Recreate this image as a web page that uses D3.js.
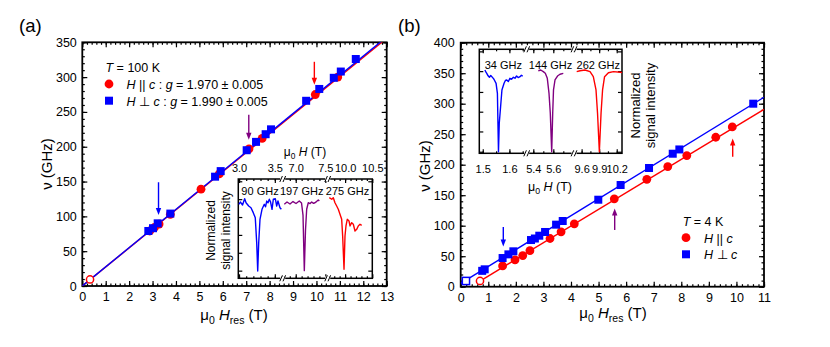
<!DOCTYPE html>
<html>
<head>
<meta charset="utf-8">
<title>ESR frequency vs resonance field</title>
<script src="https://cdn.jsdelivr.net/npm/d3@7"></script>
<style>
    body { margin: 0; background: #fff; }
    svg { font-family: "Liberation Sans", Arial, Helvetica, sans-serif; }
</style>
</head>
<body>
<svg id="chart" width="830" height="347"></svg>
<script>
    // ---------- panel (a), T = 100 K ----------
    var aParH  = [2.88, 3.08, 3.28, 3.76, 5.07, 5.85, 7.12, 7.68, 9.95, 10.91];
    var aParF  = [79, 84, 89, 103, 139, 161, 197, 212, 275, 300];
    var aPerpH = [2.82, 3.02, 3.22, 3.76, 5.67, 5.91, 7.02, 7.42, 7.83, 8.06, 9.56, 10.12, 10.74, 11.04, 11.68];
    var aPerpF = [79, 83, 90, 104, 157, 165, 195, 207, 218, 225, 266, 283, 299, 308, 326];
    var aOpenParH = [0.33], aOpenParF = [9.4];
    var aFitParH = [0, 13],  aFitParF = [0, 355.8];
    var aFitPerpH = [0, 13], aFitPerpF = [0, 357.7];
    // arrows: field, tail freq, tip freq
    var aArrowH = [3.255, 7.11, 9.91];
    var aArrowTail = [149, 246, 322];
    var aArrowTip = [102, 210, 289];

    // inset (a) spectra [field (T), normalized intensity]
    var spec90 = [[2.996,0.745],[3.021,0.768],[3.049,0.738],[3.079,0.802],[3.098,0.761],[3.135,0.728],
        [3.167,0.711],[3.199,0.661],[3.227,0.610],[3.247,0.359],[3.261,0.074],[3.275,0.359],[3.293,0.594],
        [3.321,0.695],[3.353,0.745],[3.370,0.720],[3.387,0.778],[3.405,0.760],[3.423,0.796],[3.440,0.770],
        [3.461,0.695],[3.479,0.796],[3.507,0.802],[3.526,0.728],[3.544,0.778],[3.572,0.711],[3.591,0.695]];
    var spec197 = [[6.807,0.745],[6.853,0.768],[6.903,0.748],[6.954,0.773],[7.005,0.753],[7.060,0.778],
        [7.098,0.758],[7.123,0.637],[7.145,0.077],[7.165,0.486],[7.185,0.695],[7.212,0.761],[7.240,0.752],
        [7.270,0.768],[7.300,0.755],[7.325,0.761],[7.355,0.775],[7.381,0.789],[7.398,0.778]];
    var spec275 = [[9.709,0.812],[9.754,0.796],[9.783,0.812],[9.814,0.761],[9.845,0.728],[9.875,0.695],
        [9.906,0.645],[9.937,0.594],[9.955,0.426],[9.980,0.091],[9.998,0.426],[10.016,0.527],[10.040,0.594],
        [10.072,0.577],[10.090,0.527],[10.121,0.560],[10.151,0.544],[10.182,0.476],[10.213,0.493],
        [10.242,0.527],[10.274,0.544],[10.305,0.534]];
    var insetASegments = [[2.99, 3.61], [6.78, 7.54], [9.68, 10.5]];
    var insetATicks = [3.0, 3.5, 7.0, 7.5, 10.0, 10.5];

    // ---------- panel (b), T = 4 K ----------
    var bParH  = [1.52, 1.97, 2.25, 2.51, 3.24, 3.64, 4.12, 5.57, 6.75, 7.51, 8.20, 9.25, 9.85];
    var bParF  = [34, 44, 51, 59, 79, 90, 103, 144, 176, 197, 215, 245, 262];
    var bPerpH = [0.78, 0.87, 1.52, 1.73, 1.91, 2.55, 2.69, 2.85, 3.06, 3.46, 3.70, 4.99, 5.80, 6.83, 7.69, 7.93, 10.61];
    var bPerpF = [26, 28.5, 47, 53, 58, 76.5, 79, 83.6, 89.7, 101.7, 107.7, 142.6, 166.7, 194.6, 218, 225, 300];
    var bOpenParH = [0.70], bOpenParF = [9.4];
    var bOpenPerpH = [0.19], bOpenPerpF = [9.4];
    var bFitParH = [0.7, 11], bFitParF = [9.3, 290.8];
    var bFitPerpH = [0, 11],  bFitPerpF = [5.5, 310.5];
    var bArrowH = [1.545, 5.585, 9.865];
    var bArrowTail = [98, 93, 213];
    var bArrowTip = [66, 128, 243];

    var spec34 = [[1.508,0.801],[1.512,0.780],[1.515,0.769],[1.520,0.745],[1.525,0.731],[1.530,0.748],
        [1.534,0.737],[1.538,0.725],[1.542,0.712],[1.550,0.673],[1.555,0.577],[1.557,0.291],[1.559,0.015],
        [1.562,0.291],[1.567,0.448],[1.572,0.609],[1.580,0.673],[1.585,0.700],[1.590,0.705],[1.596,0.690],
        [1.602,0.721],[1.608,0.712],[1.615,0.731],[1.621,0.722],[1.627,0.743],[1.633,0.728],[1.640,0.737],
        [1.645,0.750],[1.650,0.743]];
    var spec144 = [[5.450,0.794],[5.474,0.801],[5.500,0.785],[5.520,0.769],[5.540,0.721],[5.557,0.577],
        [5.570,0.385],[5.584,0.015],[5.594,0.385],[5.602,0.609],[5.617,0.705],[5.642,0.743],[5.667,0.760],
        [5.700,0.769]];
    var spec262 = [[9.516,0.785],[9.573,0.794],[9.658,0.801],[9.744,0.785],[9.800,0.737],[9.846,0.609],
        [9.872,0.385],[9.903,0.015],[9.932,0.385],[9.958,0.609],[9.992,0.737],[10.058,0.775],[10.143,0.785],
        [10.258,0.779],[10.29,0.777]];
    var insetBSegments = [[1.487, 1.665], [5.334, 5.807], [9.47, 10.29]];
    var insetBTicks = [1.5, 1.6, 5.4, 5.6, 9.6, 9.9, 10.2];

    var RED = "#ff0000", BLUE = "#0000ff", PURPLE = "#800080";
    var svg = d3.select("#chart");

    function zip(a, b) { return a.map(function (v, i) { return [v, b[i]]; }); }

    // axis helper: inward ticks, optional labels
    function addAxis(g, axisFn, scale, values, size, tr, fmt, pad, fs) {
        var a = axisFn(scale).tickValues(values).tickSize(-size).tickPadding(pad || 0);
        a.tickFormat(fmt || "");
        var ag = g.append("g").attr("transform", tr).call(a);
        ag.select(".domain").remove();
        ag.selectAll("line").attr("stroke", "#000").attr("stroke-width", 1.2);
        ag.selectAll("text").attr("font-size", fs || 12.5)
            .attr("font-family", '"Liberation Sans", Arial, sans-serif').attr("fill", "#000");
        return ag;
    }

    function arrow(g, x, yTail, yTip, color) {
        var dir = yTip > yTail ? 1 : -1;
        g.append("line").attr("x1", x).attr("x2", x).attr("y1", yTail).attr("y2", yTip - dir * 5)
            .attr("stroke", color).attr("stroke-width", 1.4);
        g.append("path")
            .attr("d", "M" + (x - 2.7) + "," + (yTip - dir * 7) + "L" + (x + 2.7) + "," + (yTip - dir * 7) + "L" + x + "," + yTip + "Z")
            .attr("fill", color);
    }

    // subscripted label "μ0 H..."
    function muLabel(t, sub, fs) {
        t.append("tspan").text("μ");
        t.append("tspan").attr("font-size", fs * 0.7).attr("dy", fs * 0.25).text("0");
        t.append("tspan").attr("dy", -fs * 0.25).text(" ");
        t.append("tspan").attr("font-style", "italic").text("H");
        if (sub) {
            t.append("tspan").attr("font-size", fs * 0.7).attr("dy", fs * 0.25).text(sub);
            t.append("tspan").attr("dy", -fs * 0.25).text(" (T)");
        } else {
            t.append("tspan").text(" (T)");
        }
    }

    function mainPanel(o) {
        var g = svg.append("g");
        var x = d3.scaleLinear().domain(o.xDomain).range([o.left, o.right]);
        var y = d3.scaleLinear().domain(o.yDomain).range([o.bottom, o.top]);

        g.append("clipPath").attr("id", o.id + "-clip").append("rect")
            .attr("x", o.left).attr("y", o.top).attr("width", o.right - o.left).attr("height", o.bottom - o.top);

        // ticks on all four sides
        var xMaj = d3.range(o.xDomain[0], o.xDomain[1] + 0.01, 1);
        var xMin = d3.range(o.xDomain[0], o.xDomain[1] + 0.01, 0.2);
        var yMaj = d3.range(o.yDomain[0], o.yDomain[1] + 0.1, 50);
        var yMin = d3.range(o.yDomain[0], o.yDomain[1] + 0.1, 10);
        addAxis(g, d3.axisBottom, x, xMin, 2.5, "translate(0," + o.bottom + ")");
        addAxis(g, d3.axisTop, x, xMin, 2.5, "translate(0," + o.top + ")");
        addAxis(g, d3.axisLeft, y, yMin, 2.5, "translate(" + o.left + ",0)");
        addAxis(g, d3.axisRight, y, yMin, 2.5, "translate(" + o.right + ",0)");
        addAxis(g, d3.axisBottom, x, xMaj, 5, "translate(0," + o.bottom + ")", d3.format("d"), 6.5);
        addAxis(g, d3.axisTop, x, xMaj, 5, "translate(0," + o.top + ")");
        addAxis(g, d3.axisLeft, y, yMaj, 5, "translate(" + o.left + ",0)", d3.format("d"), o.yPad);
        addAxis(g, d3.axisRight, y, yMaj, 5, "translate(" + o.right + ",0)");

        g.append("rect").attr("x", o.left).attr("y", o.top)
            .attr("width", o.right - o.left).attr("height", o.bottom - o.top)
            .attr("fill", "none").attr("stroke", "#000").attr("stroke-width", 1.8);

        // fit lines
        var line = d3.line().x(function (d) { return x(d[0]); }).y(function (d) { return y(d[1]); });
        var plot = g.append("g").attr("clip-path", "url(#" + o.id + "-clip)");
        o.fits.forEach(function (f) {
            plot.append("path").attr("d", line(zip(f.h, f.f)))
                .attr("fill", "none").attr("stroke", f.color).attr("stroke-width", 1.4);
        });

        // open markers
        plot.selectAll(".openc").data(zip(o.openParH, o.openParF)).enter().append("circle")
            .attr("cx", function (d) { return x(d[0]); }).attr("cy", function (d) { return y(d[1]); })
            .attr("r", 3.6).attr("fill", "#fff").attr("stroke", RED).attr("stroke-width", 1.5);
        plot.selectAll(".opens").data(zip(o.openPerpH, o.openPerpF)).enter().append("rect")
            .attr("x", function (d) { return x(d[0]) - 3.6; }).attr("y", function (d) { return y(d[1]) - 3.6; })
            .attr("width", 7.2).attr("height", 7.2).attr("fill", "#fff").attr("stroke", BLUE).attr("stroke-width", 1.5);

        // filled markers
        plot.selectAll(".par").data(zip(o.parH, o.parF)).enter().append("circle")
            .attr("cx", function (d) { return x(d[0]); }).attr("cy", function (d) { return y(d[1]); })
            .attr("r", 4.4).attr("fill", RED);
        plot.selectAll(".perp").data(zip(o.perpH, o.perpF)).enter().append("rect")
            .attr("x", function (d) { return x(d[0]) - 4; }).attr("y", function (d) { return y(d[1]) - 4; })
            .attr("width", 8).attr("height", 8).attr("fill", BLUE);

        // arrows
        var colors = [BLUE, PURPLE, RED];
        o.arrowH.forEach(function (h, i) {
            arrow(g, x(h), y(o.arrowTail[i]), y(o.arrowTip[i]), colors[i]);
        });

        // axis titles
        var yt = g.append("text").attr("transform", "translate(" + o.yTitleX + "," + o.yTitleY + ") rotate(-90)")
            .attr("text-anchor", "middle").attr("font-size", 15).text("ν (GHz)");
        var xt = g.append("text").attr("x", o.xTitleX).attr("y", o.xTitleY)
            .attr("text-anchor", "middle").attr("font-size", 15);
        muLabel(xt, "res", 15);

        g.append("text").attr("x", o.tagX).attr("y", 32).attr("font-size", 18.5).text(o.tag);
        return { g: g, x: x, y: y };
    }

    function inset(o) {
        var g = svg.append("g");
        var rng = [], dom = [];
        var w = (o.x1 - o.x0) / o.segPx.length;
        o.segments.forEach(function (s, i) { dom.push(s[0], s[1]); rng.push(o.segPx[i][0], o.segPx[i][1]); });
        var x = d3.scaleLinear().domain(dom).range(rng);
        var y = d3.scaleLinear().domain([0, 1]).range([o.y1, o.y0]);

        g.append("rect").attr("x", o.x0).attr("y", o.y0).attr("width", o.x1 - o.x0).attr("height", o.y1 - o.y0)
            .attr("fill", "#fff");
        g.append("clipPath").attr("id", o.id + "-clip").append("rect")
            .attr("x", o.x0).attr("y", o.y0).attr("width", o.x1 - o.x0).attr("height", o.y1 - o.y0);

        // minor ticks: every half step inside each segment
        var minor = [];
        o.segments.forEach(function (s, i) {
            d3.range(Math.ceil(s[0] / o.minorStep[i]) * o.minorStep[i], s[1], o.minorStep[i]).forEach(function (v) { minor.push(v); });
        });
        var fmt = function (d) { return d3.format(".1f")(d); };
        addAxis(g, d3.axisBottom, x, minor, 2, "translate(0," + o.y1 + ")");
        addAxis(g, d3.axisTop, x, minor, 2, "translate(0," + o.y0 + ")");
        addAxis(g, d3.axisBottom, x, o.ticks, 4, "translate(0," + o.y1 + ")", o.labelBottom ? fmt : "", 12, 11);
        addAxis(g, d3.axisTop, x, o.ticks, 4, "translate(0," + o.y0 + ")", o.labelBottom ? "" : fmt, 7, 11);
        addAxis(g, d3.axisLeft, y, o.yTicks, 4, "translate(" + o.x0 + ",0)");
        addAxis(g, d3.axisRight, y, o.yTicks, 4, "translate(" + o.x1 + ",0)");

        g.append("rect").attr("x", o.x0).attr("y", o.y0).attr("width", o.x1 - o.x0).attr("height", o.y1 - o.y0)
            .attr("fill", "none").attr("stroke", "#000").attr("stroke-width", 1.5);

        // axis breaks "//"
        o.segPx.slice(1).forEach(function (p) {
            [o.y0, o.y1].forEach(function (yy) {
                g.append("rect").attr("x", p[0] - 2.5).attr("y", yy - 2).attr("width", 5).attr("height", 4).attr("fill", "#fff");
                [-1.6, 1.6].forEach(function (dx) {
                    g.append("line").attr("x1", p[0] + dx - 1.3).attr("y1", yy + 3)
                        .attr("x2", p[0] + dx + 1.3).attr("y2", yy - 3)
                        .attr("stroke", "#000").attr("stroke-width", 1);
                });
            });
        });

        var line = d3.line().x(function (d) { return x(d[0]); }).y(function (d) { return y(d[1]); });
        var colors = [BLUE, PURPLE, RED];
        var plot = g.append("g").attr("clip-path", "url(#" + o.id + "-clip)");
        o.spectra.forEach(function (s, i) {
            plot.append("path").attr("d", line(s)).attr("fill", "none")
                .attr("stroke", colors[i]).attr("stroke-width", 1.4).attr("stroke-linejoin", "round");
        });

        // frequency labels
        o.freqLabels.forEach(function (t, i) {
            g.append("text").attr("x", o.freqX[i]).attr("y", o.freqY).attr("text-anchor", "middle")
                .attr("font-size", 11).text(t);
        });

        // titles
        var xt = g.append("text").attr("x", o.xTitleX).attr("y", o.xTitleY).attr("text-anchor", "middle")
            .attr("font-size", o.titleFs);
        muLabel(xt, null, o.titleFs);
        ["Normalized", "signal intensity"].forEach(function (t, i) {
            g.append("text").attr("transform", "translate(" + o.yTitleX[i] + "," + o.yTitleY + ") rotate(-90)")
                .attr("text-anchor", "middle").attr("font-size", o.yTitleFs).text(t);
        });
    }

    // ----- panel (a)
    var pa = mainPanel({
        id: "pa", xDomain: [0, 13], yDomain: [0, 350],
        left: 82.3, right: 386.7, top: 42.3, bottom: 286, yPad: 5.5,
        parH: aParH, parF: aParF, perpH: aPerpH, perpF: aPerpF,
        openParH: aOpenParH, openParF: aOpenParF, openPerpH: [], openPerpF: [],
        fits: [{ h: aFitParH, f: aFitParF, color: RED }, { h: aFitPerpH, f: aFitPerpF, color: BLUE }],
        arrowH: aArrowH, arrowTail: aArrowTail, arrowTip: aArrowTip,
        yTitleX: 52, yTitleY: 164, xTitleX: 234, xTitleY: 320, tag: "(a)", tagX: 19
    });

    // legend (a)
    var la = pa.g.append("g").attr("font-size", 12.5);
    var t0 = la.append("text").attr("x", 105.5).attr("y", 71.5);
    t0.append("tspan").attr("font-style", "italic").text("T");
    t0.append("tspan").text(" = 100 K");
    la.append("circle").attr("cx", 109).attr("cy", 84).attr("r", 4.4).attr("fill", RED);
    la.append("rect").attr("x", 105).attr("y", 96.7).attr("width", 8).attr("height", 8).attr("fill", BLUE);
    [["||", "1.970", 88.5], ["\u22a5", "1.990", 105.5]].forEach(function (r) {
        var t = la.append("text").attr("x", 126.5).attr("y", r[2]);
        t.append("tspan").attr("font-style", "italic").text("H");
        t.append("tspan").text(" " + r[0] + " ");
        t.append("tspan").attr("font-style", "italic").text("c");
        t.append("tspan").text(" : ");
        t.append("tspan").attr("font-style", "italic").text("g");
        t.append("tspan").text(" = " + r[1] + " \u00b1 0.005");
    });

    inset({
        id: "ia", x0: 238.3, x1: 372.3, y0: 179, y1: 278.3,
        segments: insetASegments, segPx: [[238.3, 282.7], [282.7, 327.7], [327.7, 372.3]],
        minorStep: [0.1, 0.1, 0.1], ticks: insetATicks, labelBottom: false,
        yTicks: [0.077, 0.257, 0.437, 0.617, 0.797, 0.977],
        spectra: [spec90, spec197, spec275],
        freqLabels: ["90 GHz", "197 GHz", "275 GHz"], freqX: [260, 301.7, 347.5], freqY: 195,
        xTitleX: 305, xTitleY: 155.5, titleFs: 12,
        yTitleX: [215, 230], yTitleY: 230.5, yTitleFs: 12
    });

    // ----- panel (b)
    var pb = mainPanel({
        id: "pb", xDomain: [0, 11], yDomain: [0, 400],
        left: 460.7, right: 764, top: 42.7, bottom: 286.7, yPad: 6,
        parH: bParH, parF: bParF, perpH: bPerpH, perpF: bPerpF,
        openParH: bOpenParH, openParF: bOpenParF, openPerpH: bOpenPerpH, openPerpF: bOpenPerpF,
        fits: [{ h: bFitParH, f: bFitParF, color: RED }, { h: bFitPerpH, f: bFitPerpF, color: BLUE }],
        arrowH: bArrowH, arrowTail: bArrowTail, arrowTip: bArrowTip,
        yTitleX: 430, yTitleY: 166, xTitleX: 613, xTitleY: 318, tag: "(b)", tagX: 398
    });

    // legend (b)
    var lb = pb.g.append("g").attr("font-size", 12.5);
    var t1 = lb.append("text").attr("x", 682.7).attr("y", 225.5);
    t1.append("tspan").attr("font-style", "italic").text("T");
    t1.append("tspan").text(" = 4 K");
    lb.append("circle").attr("cx", 686).attr("cy", 237.7).attr("r", 4.4).attr("fill", RED);
    lb.append("rect").attr("x", 682).attr("y", 250.3).attr("width", 8).attr("height", 8).attr("fill", BLUE);
    [["||", 242.5], ["\u22a5", 259.3]].forEach(function (r) {
        var t = lb.append("text").attr("x", 704).attr("y", r[1]);
        t.append("tspan").attr("font-style", "italic").text("H");
        t.append("tspan").text(" " + r[0] + " ");
        t.append("tspan").attr("font-style", "italic").text("c");
    });

    inset({
        id: "ib", x0: 479.3, x1: 622, y0: 49.3, y1: 153.3,
        segments: insetBSegments, segPx: [[479.3, 526.7], [526.7, 574], [574, 622]],
        minorStep: [0.05, 0.1, 0.15], ticks: insetBTicks, labelBottom: true,
        yTicks: [0.015, 0.21, 0.40, 0.59, 0.79, 0.98],
        spectra: [spec34, spec144, spec262],
        freqLabels: ["34 GHz", "144 GHz", "262 GHz"], freqX: [503.3, 550.5, 598.3], freqY: 69,
        xTitleX: 550, xTitleY: 191, titleFs: 12.5,
        yTitleX: [640, 655], yTitleY: 105.5, yTitleFs: 13
    });
</script>
</body>
</html>
